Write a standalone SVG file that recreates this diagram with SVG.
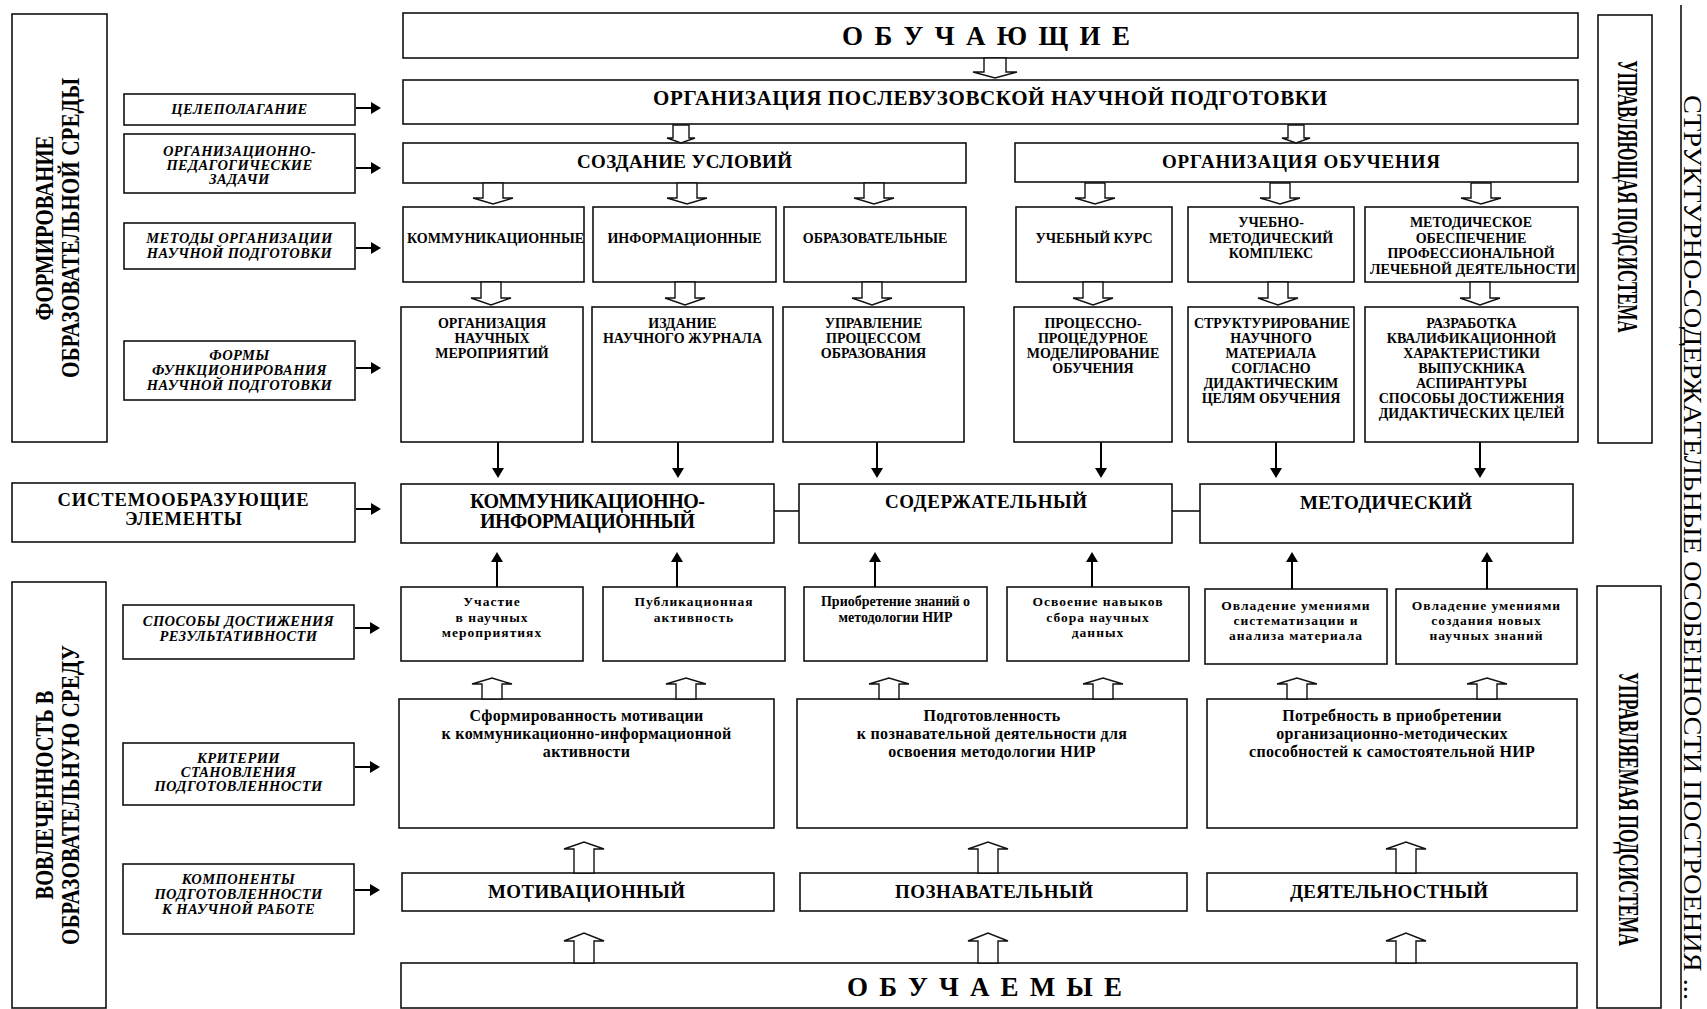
<svg xmlns="http://www.w3.org/2000/svg" width="1707" height="1009" viewBox="0 0 1707 1009">
<defs>
<style>
.bx{fill:#fff;stroke:#111;stroke-width:1.6}
.t{font-family:'Liberation Serif','Times New Roman',serif;font-weight:bold;text-anchor:middle;fill:#000}
.it{font-style:italic;font-size:14.5px;letter-spacing:0.4px}
.m{font-size:14px}
.r{font-size:13.5px;letter-spacing:1px}
.c{font-size:16px;letter-spacing:0.3px}
.h{font-size:20px}
.cmp{font-size:19px}
.big{font-size:27px}
.vt{font-size:25px}
.reg{font-weight:normal}
.ha{fill:#fff;stroke:#111;stroke-width:1.4}
.sa{stroke:#000;stroke-width:2;fill:none}
.cn{stroke:#111;stroke-width:1.6;fill:none}
</style>
<marker id="ah" viewBox="0 0 10 12" markerWidth="10" markerHeight="12" refX="6" refY="6" orient="auto" markerUnits="userSpaceOnUse"><path d="M0,0 L10,6 L0,12 Z" fill="#000"/></marker>
</defs>
<rect width="1707" height="1009" fill="#fff"/>

<!-- left vertical boxes -->
<g id="formirovanie">
<rect class="bx" x="12" y="14" width="95" height="428"/>
<text class="t vt" transform="translate(53,228) rotate(-90)" textLength="185" lengthAdjust="spacingAndGlyphs">ФОРМИРОВАНИЕ</text>
<text class="t vt" transform="translate(79,228) rotate(-90)" textLength="300" lengthAdjust="spacingAndGlyphs">ОБРАЗОВАТЕЛЬНОЙ СРЕДЫ</text>
</g>
<g id="vovlechennost">
<rect class="bx" x="12" y="582" width="94" height="426"/>
<text class="t vt" transform="translate(53,795) rotate(-90)" textLength="209" lengthAdjust="spacingAndGlyphs">ВОВЛЕЧЕННОСТЬ В</text>
<text class="t vt" transform="translate(79,795) rotate(-90)" textLength="300" lengthAdjust="spacingAndGlyphs">ОБРАЗОВАТЕЛЬНУЮ СРЕДУ</text>
</g>

<!-- left labels -->
<g id="celepolaganie">
<rect class="bx" x="124" y="94" width="231" height="31"/>
<text class="t it" x="239.5" y="114">ЦЕЛЕПОЛАГАНИЕ</text>
</g>
<g id="org-ped">
<rect class="bx" x="124" y="134" width="231" height="59"/>
<text class="t it" x="239.5" y="156">ОРГАНИЗАЦИОННО-<tspan x="239.5" y="170">ПЕДАГОГИЧЕСКИЕ</tspan><tspan x="239.5" y="184">ЗАДАЧИ</tspan></text>
</g>
<g id="metody">
<rect class="bx" x="124" y="223" width="231" height="46"/>
<text class="t it" x="239.5" y="243">МЕТОДЫ ОРГАНИЗАЦИИ<tspan x="239.5" y="258">НАУЧНОЙ ПОДГОТОВКИ</tspan></text>
</g>
<g id="formy">
<rect class="bx" x="124" y="341" width="231" height="59"/>
<text class="t it" x="239.5" y="360">ФОРМЫ<tspan x="239.5" y="375">ФУНКЦИОНИРОВАНИЯ</tspan><tspan x="239.5" y="390">НАУЧНОЙ ПОДГОТОВКИ</tspan></text>
</g>
<g id="sistemoobr">
<rect class="bx" x="12" y="483" width="343" height="59"/>
<text class="t" style="font-size:18.5px" x="183" y="506" textLength="251">СИСТЕМООБРАЗУЮЩИЕ</text>
<text class="t" style="font-size:18.5px" x="183.5" y="525" textLength="117">ЭЛЕМЕНТЫ</text>
</g>
<g id="sposoby">
<rect class="bx" x="123" y="605" width="231" height="54"/>
<text class="t it" x="238.5" y="626">СПОСОБЫ ДОСТИЖЕНИЯ<tspan x="238.5" y="641">РЕЗУЛЬТАТИВНОСТИ</tspan></text>
</g>
<g id="kriterii">
<rect class="bx" x="123" y="743" width="231" height="62"/>
<text class="t it" x="238.5" y="763">КРИТЕРИИ<tspan x="238.5" y="777">СТАНОВЛЕНИЯ</tspan><tspan x="238.5" y="791">ПОДГОТОВЛЕННОСТИ</tspan></text>
</g>
<g id="komponenty">
<rect class="bx" x="123" y="864" width="231" height="70"/>
<text class="t it" x="238.5" y="884">КОМПОНЕНТЫ<tspan x="238.5" y="899">ПОДГОТОВЛЕННОСТИ</tspan><tspan x="238.5" y="914">К НАУЧНОЙ РАБОТЕ</tspan></text>
</g>

<!-- top main -->
<g id="obuchayushchie">
<rect class="bx" x="403" y="13" width="1175" height="45"/>
<text class="t big" x="986" y="45" textLength="288">О Б У Ч А Ю Щ И Е</text>
</g>
<g id="org-poslevuz">
<rect class="bx" x="403" y="80" width="1175" height="44"/>
<text class="t" style="font-size:21px" x="990" y="105" textLength="674">ОРГАНИЗАЦИЯ ПОСЛЕВУЗОВСКОЙ НАУЧНОЙ ПОДГОТОВКИ</text>
</g>
<g id="sozdanie">
<rect class="bx" x="403" y="143" width="563" height="40"/>
<text class="t" style="font-size:19px" x="684.5" y="168" textLength="215">СОЗДАНИЕ УСЛОВИЙ</text>
</g>
<g id="org-obuch">
<rect class="bx" x="1015" y="143" width="563" height="39"/>
<text class="t" style="font-size:19px" x="1301" y="168" textLength="278">ОРГАНИЗАЦИЯ ОБУЧЕНИЯ</text>
</g>

<!-- methods row -->
<g id="m-komm"><rect class="bx" x="403" y="207" width="181" height="75"/><text class="t m" x="495.5" y="243">КОММУНИКАЦИОННЫЕ</text></g>
<g id="m-inform"><rect class="bx" x="593" y="207" width="183" height="75"/><text class="t m" x="684.5" y="243">ИНФОРМАЦИОННЫЕ</text></g>
<g id="m-obraz"><rect class="bx" x="784" y="207" width="182" height="75"/><text class="t m" x="875" y="243">ОБРАЗОВАТЕЛЬНЫЕ</text></g>
<g id="m-kurs"><rect class="bx" x="1016" y="207" width="156" height="75"/><text class="t m" x="1094" y="243">УЧЕБНЫЙ КУРС</text></g>
<g id="m-umk"><rect class="bx" x="1188" y="207" width="166" height="75"/><text class="t m" x="1271" y="227">УЧЕБНО-<tspan x="1271" y="243">МЕТОДИЧЕСКИЙ</tspan><tspan x="1271" y="258">КОМПЛЕКС</tspan></text></g>
<g id="m-metod"><rect class="bx" x="1365" y="207" width="213" height="75"/><text class="t m" x="1471" y="227">МЕТОДИЧЕСКОЕ<tspan x="1471" y="243">ОБЕСПЕЧЕНИЕ</tspan><tspan x="1471" y="258">ПРОФЕССИОНАЛЬНОЙ</tspan></text><text class="t m" x="1473" y="274" textLength="206" lengthAdjust="spacingAndGlyphs">ЛЕЧЕБНОЙ ДЕЯТЕЛЬНОСТИ</text></g>

<!-- forms row -->
<g id="f-meropr"><rect class="bx" x="401" y="307" width="182" height="135"/><text class="t m" x="492" y="328">ОРГАНИЗАЦИЯ<tspan x="492" y="343">НАУЧНЫХ</tspan><tspan x="492" y="358">МЕРОПРИЯТИЙ</tspan></text></g>
<g id="f-zhurnal"><rect class="bx" x="592" y="307" width="181" height="135"/><text class="t m" x="682.5" y="328">ИЗДАНИЕ<tspan x="682.5" y="343">НАУЧНОГО ЖУРНАЛА</tspan></text></g>
<g id="f-upravl"><rect class="bx" x="783" y="307" width="181" height="135"/><text class="t m" x="873.5" y="328">УПРАВЛЕНИЕ<tspan x="873.5" y="343">ПРОЦЕССОМ</tspan><tspan x="873.5" y="358">ОБРАЗОВАНИЯ</tspan></text></g>
<g id="f-model"><rect class="bx" x="1014" y="307" width="158" height="135"/><text class="t m" x="1093" y="328">ПРОЦЕССНО-<tspan x="1093" y="343">ПРОЦЕДУРНОЕ</tspan><tspan x="1093" y="358">МОДЕЛИРОВАНИЕ</tspan><tspan x="1093" y="373">ОБУЧЕНИЯ</tspan></text></g>
<g id="f-struct"><rect class="bx" x="1188" y="307" width="166" height="135"/><text class="t m" x="1272" y="328">СТРУКТУРИРОВАНИЕ<tspan x="1271" y="343">НАУЧНОГО</tspan><tspan x="1271" y="358">МАТЕРИАЛА</tspan><tspan x="1271" y="373">СОГЛАСНО</tspan><tspan x="1271" y="388">ДИДАКТИЧЕСКИМ</tspan><tspan x="1271" y="403">ЦЕЛЯМ ОБУЧЕНИЯ</tspan></text></g>
<g id="f-razrab"><rect class="bx" x="1365" y="307" width="213" height="135"/><text class="t m" x="1471.5" y="328">РАЗРАБОТКА<tspan x="1471.5" y="343">КВАЛИФИКАЦИОННОЙ</tspan><tspan x="1471.5" y="358">ХАРАКТЕРИСТИКИ</tspan><tspan x="1471.5" y="373">ВЫПУСКНИКА</tspan><tspan x="1471.5" y="388">АСПИРАНТУРЫ</tspan><tspan x="1471.5" y="403">СПОСОБЫ ДОСТИЖЕНИЯ</tspan><tspan x="1471.5" y="418">ДИДАКТИЧЕСКИХ ЦЕЛЕЙ</tspan></text></g>

<!-- system-forming elements -->
<g id="s-komm-inf"><rect class="bx" x="401" y="484" width="373" height="59"/><text class="t h" x="587.5" y="508" textLength="235">КОММУНИКАЦИОННО-</text><text class="t h" x="587.5" y="528" textLength="215">ИНФОРМАЦИОННЫЙ</text></g>
<g id="s-soderzh"><rect class="bx" x="799" y="484" width="373" height="59"/><text class="t" style="font-size:19px" x="986" y="508" textLength="202">СОДЕРЖАТЕЛЬНЫЙ</text></g>
<g id="s-metod"><rect class="bx" x="1200" y="484" width="373" height="59"/><text class="t" style="font-size:19px" x="1386" y="509" textLength="172">МЕТОДИЧЕСКИЙ</text></g>

<!-- results row -->
<g id="r-uchastie"><rect class="bx" x="401" y="587" width="182" height="74"/><text class="t r" x="492" y="606">Участие<tspan x="492" y="622">в научных</tspan><tspan x="492" y="637">мероприятиях</tspan></text></g>
<g id="r-publ"><rect class="bx" x="603" y="587" width="182" height="74"/><text class="t r" x="694" y="606">Публикационная<tspan x="694" y="622">активность</tspan></text></g>
<g id="r-priobr"><rect class="bx" x="804" y="587" width="183" height="74"/><text class="t" style="font-size:14px" x="895.5" y="606">Приобретение знаний о<tspan x="895.5" y="622">методологии НИР</tspan></text></g>
<g id="r-osvoenie"><rect class="bx" x="1007" y="587" width="182" height="74"/><text class="t r" x="1098" y="606">Освоение навыков<tspan x="1098" y="622">сбора научных</tspan><tspan x="1098" y="637">данных</tspan></text></g>
<g id="r-ovlad1"><rect class="bx" x="1205" y="589" width="182" height="75"/><text class="t r" x="1296" y="610">Овладение умениями<tspan x="1296" y="625">систематизации и</tspan><tspan x="1296" y="640">анализа материала</tspan></text></g>
<g id="r-ovlad2"><rect class="bx" x="1396" y="589" width="181" height="75"/><text class="t r" x="1486.5" y="610">Овладение умениями<tspan x="1486.5" y="625">создания новых</tspan><tspan x="1486.5" y="640">научных знаний</tspan></text></g>

<!-- criteria row -->
<g id="c-motiv"><rect class="bx" x="399" y="699" width="375" height="129"/><text class="t c" x="586.5" y="721">Сформированность мотивации<tspan x="586.5" y="739">к коммуникационно-информационной</tspan><tspan x="586.5" y="757">активности</tspan></text></g>
<g id="c-podgot"><rect class="bx" x="797" y="699" width="390" height="129"/><text class="t c" x="992" y="721">Подготовленность<tspan x="992" y="739">к познавательной деятельности для</tspan><tspan x="992" y="757">освоения методологии НИР</tspan></text></g>
<g id="c-potreb"><rect class="bx" x="1207" y="699" width="370" height="129"/><text class="t c" x="1392" y="721">Потребность в приобретении<tspan x="1392" y="739">организационно-методических</tspan><tspan x="1392" y="757">способностей к самостоятельной НИР</tspan></text></g>

<!-- components row -->
<g id="k-motiv"><rect class="bx" x="402" y="873" width="372" height="38"/><text class="t cmp" x="586.5" y="898" textLength="197">МОТИВАЦИОННЫЙ</text></g>
<g id="k-pozn"><rect class="bx" x="800" y="873" width="387" height="38"/><text class="t cmp" x="994" y="898" textLength="198">ПОЗНАВАТЕЛЬНЫЙ</text></g>
<g id="k-deyat"><rect class="bx" x="1207" y="873" width="370" height="38"/><text class="t cmp" x="1389" y="898" textLength="198">ДЕЯТЕЛЬНОСТНЫЙ</text></g>

<g id="obuchaemye">
<rect class="bx" x="401" y="963" width="1176" height="45"/>
<text class="t big" x="984.5" y="996" textLength="275">О Б У Ч А Е М Ы Е</text>
</g>

<!-- right side -->
<g id="upravlyayushchaya">
<rect class="bx" x="1598" y="15" width="54" height="428"/>
<text class="t" style="font-size:29px" transform="translate(1618,196.5) rotate(90) scale(0.582,1)">УПРАВЛЯЮЩАЯ ПОДСИСТЕМА</text>
</g>
<g id="upravlyaemaya">
<rect class="bx" x="1597" y="586" width="64" height="422"/>
<text class="t" style="font-size:29px" transform="translate(1619,809) rotate(90) scale(0.608,1)">УПРАВЛЯЕМАЯ ПОДСИСТЕМА</text>
</g>
<g id="title-vertical">
<line x1="1681" y1="5" x2="1681" y2="1009" stroke="#111" stroke-width="1.6"/>
<text class="t reg" style="font-size:25px" transform="translate(1684,547.5) rotate(90)" textLength="905" lengthAdjust="spacingAndGlyphs">СТРУКТУРНО-СОДЕРЖАТЕЛЬНЫЕ ОСОБЕННОСТИ ПОСТРОЕНИЯ ...</text>
</g>

<!-- connectors -->
<g id="connectors">
<g class="ha">
<path d="M984,58 V72 H973 L995,78 L1017,72 H1006 V58 Z"/>
<path d="M673,125 V138 H667 L681,143 L695,138 H689 V125 Z"/>
<path d="M1288,125 V138 H1282 L1296,143 L1310,138 H1304 V125 Z"/>
<path d="M483,183 V198 H473 L493,204 L513,198 H503 V183 Z"/>
<path d="M677,183 V198 H667 L687,204 L707,198 H697 V183 Z"/>
<path d="M864,183 V198 H854 L874,204 L894,198 H884 V183 Z"/>
<path d="M1085,183 V198 H1075 L1095,204 L1115,198 H1105 V183 Z"/>
<path d="M1270,183 V198 H1260 L1280,204 L1300,198 H1290 V183 Z"/>
<path d="M1471,183 V198 H1461 L1481,204 L1501,198 H1491 V183 Z"/>
<path d="M481,282 V298 H471 L491,305 L511,298 H501 V282 Z"/>
<path d="M675,282 V298 H665 L685,305 L705,298 H695 V282 Z"/>
<path d="M862,282 V298 H852 L872,305 L892,298 H882 V282 Z"/>
<path d="M1083,282 V298 H1073 L1093,305 L1113,298 H1103 V282 Z"/>
<path d="M1268,282 V298 H1258 L1278,305 L1298,298 H1288 V282 Z"/>
<path d="M1470,282 V298 H1460 L1480,305 L1500,298 H1490 V282 Z"/>
<path d="M482,699 V684 H472 L492,678 L512,684 H502 V699 Z"/>
<path d="M676,699 V684 H666 L686,678 L706,684 H696 V699 Z"/>
<path d="M879,699 V684 H869 L889,678 L909,684 H899 V699 Z"/>
<path d="M1093,699 V684 H1083 L1103,678 L1123,684 H1113 V699 Z"/>
<path d="M1287,699 V684 H1277 L1297,678 L1317,684 H1307 V699 Z"/>
<path d="M1477,699 V684 H1467 L1487,678 L1507,684 H1497 V699 Z"/>
<path d="M574,873 V849 H564 L584,842 L604,849 H594 V873 Z"/>
<path d="M978,873 V849 H968 L988,842 L1008,849 H998 V873 Z"/>
<path d="M1396,873 V849 H1386 L1406,842 L1426,849 H1416 V873 Z"/>
<path d="M574,963 V941 H564 L584,933 L604,941 H594 V963 Z"/>
<path d="M978,963 V941 H968 L988,933 L1008,941 H998 V963 Z"/>
<path d="M1396,963 V941 H1386 L1406,933 L1426,941 H1416 V963 Z"/>
</g>
<g class="sa">
<line x1="356" y1="108" x2="377" y2="108" marker-end="url(#ah)"/>
<line x1="356" y1="168" x2="377" y2="168" marker-end="url(#ah)"/>
<line x1="356" y1="248" x2="377" y2="248" marker-end="url(#ah)"/>
<line x1="356" y1="368" x2="377" y2="368" marker-end="url(#ah)"/>
<line x1="356" y1="509" x2="377" y2="509" marker-end="url(#ah)"/>
<line x1="355" y1="628" x2="376" y2="628" marker-end="url(#ah)"/>
<line x1="355" y1="767" x2="376" y2="767" marker-end="url(#ah)"/>
<line x1="355" y1="890" x2="376" y2="890" marker-end="url(#ah)"/>
<line x1="498" y1="442" x2="498" y2="474" marker-end="url(#ah)"/>
<line x1="678" y1="442" x2="678" y2="474" marker-end="url(#ah)"/>
<line x1="877" y1="442" x2="877" y2="474" marker-end="url(#ah)"/>
<line x1="1101" y1="442" x2="1101" y2="474" marker-end="url(#ah)"/>
<line x1="1276" y1="442" x2="1276" y2="474" marker-end="url(#ah)"/>
<line x1="1480" y1="442" x2="1480" y2="474" marker-end="url(#ah)"/>
<line x1="497" y1="587" x2="497" y2="556" marker-end="url(#ah)"/>
<line x1="677" y1="587" x2="677" y2="556" marker-end="url(#ah)"/>
<line x1="875" y1="587" x2="875" y2="556" marker-end="url(#ah)"/>
<line x1="1092" y1="587" x2="1092" y2="556" marker-end="url(#ah)"/>
<line x1="1292" y1="589" x2="1292" y2="556" marker-end="url(#ah)"/>
<line x1="1487" y1="589" x2="1487" y2="556" marker-end="url(#ah)"/>
</g>
<line class="cn" x1="774" y1="511" x2="799" y2="511"/>
<line class="cn" x1="1172" y1="511" x2="1200" y2="511"/>
</g>
</svg>
